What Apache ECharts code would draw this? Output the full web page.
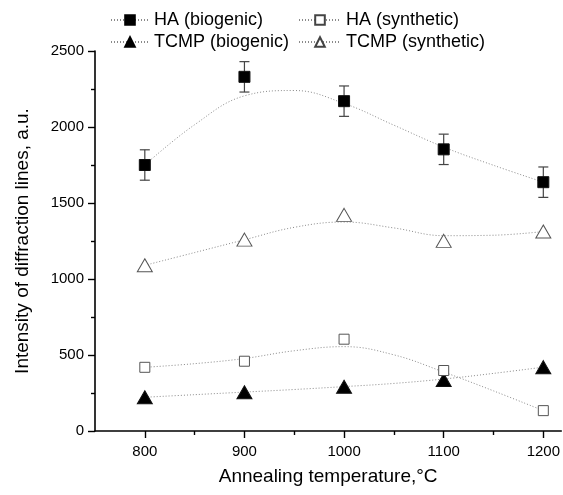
<!DOCTYPE html>
<html>
<head>
<meta charset="utf-8">
<script src="https://cdn.jsdelivr.net/npm/echarts@6/dist/echarts.min.js"></script>
<style>
  html, body { margin: 0; padding: 0; background: #fff; }
  #chart { width: 563px; height: 495px; }
</style>
</head>
<body>
<div id="chart"></div>
<script>
// measured points
const temps = [800, 900, 1000, 1100, 1200];
const haBio = [1750, 2330, 2170, 1853, 1637];
const haBioErr = [100, 100, 100, 100, 100];
const haSyn = [419, 459, 604, 398, 134];
const tcmpBio = [222, 255, 291, 335, 420];
const tcmpSyn = [1090, 1259, 1422, 1251, 1312];

// dotted fit curves, every 50 °C
const curveTemps = [800, 850, 900, 950, 1000, 1050, 1100, 1150, 1200];
const haBioCurve = [1750, 2015, 2205, 2240, 2155, 2012, 1868, 1748, 1637];
const haSynCurve = [419, 443, 477, 528, 555, 501, 388, 264, 134];
const tcmpBioCurve = [222, 239, 256, 273, 292, 313, 342, 379, 420];
const tcmpSynCurve = [1090, 1174, 1258, 1340, 1375, 1336, 1285, 1288, 1312];

const majorTicks = [800, 900, 1000, 1100, 1200];
const minorTicks = [850, 950, 1050, 1150];

const FONT = 'Liberation Sans, Arial, sans-serif';
const pairs = (xs, ys) => xs.map((x, i) => [x, ys[i]]);

const chart = echarts.init(document.getElementById('chart'));

const curveLine = { color: '#8a8a8a', width: 1, type: [1, 2] };

function curve(name, ys, symbol, size, fill) {
  return {
    name: name,
    type: 'line',
    data: pairs(curveTemps, ys),
    smooth: 0.4,
    symbol: symbol,
    symbolSize: size,
    showSymbol: false,
    lineStyle: curveLine,
    itemStyle: { color: fill, borderColor: fill === '#000' ? '#000' : '#444', borderWidth: 1 },
    z: 1,
    silent: true
  };
}

function marks(name, ys, symbol, size, fill) {
  return {
    name: name + ' pts',
    type: 'scatter',
    data: pairs(temps, ys),
    symbol: symbol,
    symbolSize: size,
    itemStyle: { color: fill, borderColor: fill === '#000' ? '#111' : '#555', borderWidth: 1, opacity: 1 },
    z: 4
  };
}

const errData = temps.map((t, i) => [t, haBio[i] - haBioErr[i], haBio[i] + haBioErr[i]]);

const legendText = { fontSize: 18, color: '#000', fontFamily: FONT };

chart.setOption({
  animation: false,
  backgroundColor: '#fff',
  textStyle: { fontFamily: FONT, color: '#000' },
  grid: { left: 95, top: 51, right: 0, bottom: 64 },
  legend: [
    {
      data: ['HA (biogenic)', 'TCMP (biogenic)'],
      orient: 'vertical', left: 110, top: 11, padding: 0, itemGap: 4,
      itemWidth: 38, itemHeight: 12,
      textStyle: legendText
    },
    {
      data: ['HA (synthetic)', 'TCMP (synthetic)'],
      orient: 'vertical', left: 298, top: 11, padding: 0, itemGap: 4,
      itemWidth: 42, itemHeight: 12,
      textStyle: legendText
    }
  ],
  xAxis: [
    {
      type: 'value', min: 750, max: 1218,
      name: 'Annealing temperature,°C', nameLocation: 'middle', nameGap: 36,
      nameTextStyle: { fontSize: 19, color: '#000', fontFamily: FONT },
      axisLine: { lineStyle: { color: '#000', width: 1.6 } },
      axisTick: { customValues: majorTicks, length: 7, lineStyle: { color: '#000', width: 1.4 } },
      axisLabel: { customValues: majorTicks, fontSize: 15, color: '#000', margin: 13, fontFamily: FONT, formatter: v => String(v) },
      splitLine: { show: false }
    },
    {
      type: 'value', min: 750, max: 1218, position: 'bottom',
      axisLine: { show: false },
      axisTick: { customValues: minorTicks, length: 4, lineStyle: { color: '#000', width: 1.4 } },
      axisLabel: { show: false, customValues: minorTicks },
      splitLine: { show: false }
    }
  ],
  yAxis: {
    type: 'value', min: 0, max: 2500, interval: 500,
    name: 'Intensity of diffraction lines, a.u.', nameLocation: 'middle', nameGap: 63,
    nameTextStyle: { fontSize: 19, color: '#000', fontFamily: FONT },
    axisLine: { show: true, lineStyle: { color: '#000', width: 1.6 } },
    axisTick: { show: true, length: 7, lineStyle: { color: '#000', width: 1.4 } },
    minorTick: { show: true, splitNumber: 2, length: 4, lineStyle: { color: '#000', width: 1.4 } },
    axisLabel: { fontSize: 15, color: '#000', margin: 11, fontFamily: FONT, formatter: v => String(v) },
    splitLine: { show: false }
  },
  series: [
    curve('HA (biogenic)', haBioCurve, 'rect', 10, '#000'),
    curve('TCMP (biogenic)', tcmpBioCurve, 'triangle', 12, '#000'),
    curve('HA (synthetic)', haSynCurve, 'rect', 9, '#fff'),
    curve('TCMP (synthetic)', tcmpSynCurve, 'triangle', 12, '#fff'),
    {
      name: 'HA err',
      type: 'custom',
      data: errData,
      z: 3,
      renderItem: function (params, api) {
        const x = api.value(0);
        const lo = api.coord([x, api.value(1)]);
        const hi = api.coord([x, api.value(2)]);
        const w = 5;
        const st = { stroke: '#444', lineWidth: 1.2 };
        return {
          type: 'group',
          children: [
            { type: 'line', shape: { x1: lo[0], y1: lo[1], x2: hi[0], y2: hi[1] }, style: st },
            { type: 'line', shape: { x1: lo[0] - w, y1: lo[1], x2: lo[0] + w, y2: lo[1] }, style: st },
            { type: 'line', shape: { x1: hi[0] - w, y1: hi[1], x2: hi[0] + w, y2: hi[1] }, style: st }
          ]
        };
      }
    },
    marks('HA (biogenic)', haBio, 'rect', 11, '#000'),
    marks('TCMP (biogenic)', tcmpBio, 'triangle', [15, 13], '#000'),
    marks('HA (synthetic)', haSyn, 'rect', 10, '#fff'),
    marks('TCMP (synthetic)', tcmpSyn, 'triangle', [15, 13], '#fff')
  ]
});
</script>
</body>
</html>
